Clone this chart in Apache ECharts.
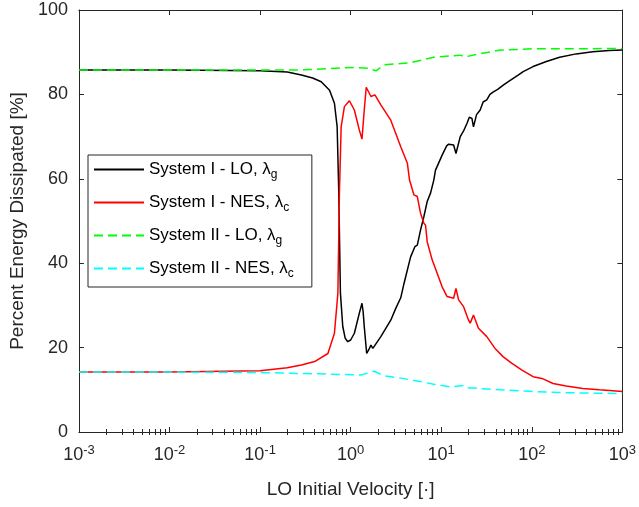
<!DOCTYPE html>
<html>
<head>
<meta charset="utf-8">
<script src="https://cdn.jsdelivr.net/npm/echarts@6/dist/echarts.min.js"></script>
<style>
html,body{margin:0;padding:0;background:#fff;}
#c{width:639px;height:507px;}
</style>
</head>
<body>
<div id="c"></div>
<script>
// ---- Data ----
const seriesNames = ['System I - LO, λ|g', 'System I - NES, λ|c', 'System II - LO, λ|g', 'System II - NES, λ|c'];

const sys1LO_x = [0.001,0.01,0.1,0.1995,0.2858,0.3802,0.4732,0.5848,0.6622,0.7096,0.7396,0.7709,0.8185,0.871,0.929,1.0,1.099,1.245,1.334,1.374,1.413,1.503,1.585,1.675,1.758,1.820,2.153,2.773,3.148,3.573,3.882,4.592,5.117,5.445,5.916,6.427,6.998,7.621,8.279,8.630,10.23,11.48,12.08,13.71,14.55,16.22,17.78,19.23,20.42,21.83,22.70,24.55,26.92,29.0,31.84,34.5,37.67,42.0,48.42,55.0,62.37,70.0,80.35,103.3,144.9,202.8,309.0,469.9,716.1,1000];
const sys1LO_y = [85.8,85.8,85.6,85.3,84.6,83.9,83.0,81.0,77.9,72.3,56.6,32.9,25.0,22.2,21.4,21.8,23.4,28.1,30.5,28.5,25.0,18.6,19.5,20.6,19.8,20.2,22.6,26.5,29.3,31.8,35.2,41.5,43.9,44.3,47.9,51.0,54.6,56.6,59.7,62.0,65.6,67.8,68.2,68.0,66.0,70.0,71.5,73.1,74.6,74.3,72.3,75.2,76.3,78.2,78.7,80.0,80.6,81.2,82.2,83.0,83.8,84.5,85.4,86.6,87.8,88.8,89.6,90.1,90.4,90.5];

const sys1NES_x = [0.001,0.01,0.1,0.1995,0.2858,0.3999,0.5610,0.6622,0.7228,0.7516,0.7852,0.8531,0.9683,1.099,1.245,1.334,1.413,1.486,1.675,1.854,2.153,2.773,3.573,4.227,4.467,4.989,5.445,5.916,6.427,6.714,6.998,7.943,9.016,10.23,11.61,13.71,14.55,15.56,17.66,20.04,20.89,22.70,25.76,31.84,39.26,48.42,59.84,77.09,103.3,133.0,171.4,239.9,365.6,557.2,1000];
const sys1NES_y = [14.2,14.2,14.5,15.2,15.9,16.7,18.6,23.4,32.9,56.6,72.3,77.1,78.5,76.3,71.6,69.4,76.3,81.7,79.5,79.9,77.5,73.9,67.6,63.7,59.7,56.2,55.8,51.8,49.5,49.0,45.1,40.8,37.6,34.4,32.1,31.7,34.0,31.3,29.7,26.5,25.8,27.7,24.6,22.6,19.8,17.8,16.3,14.7,13.1,12.6,11.5,10.9,10.3,10.0,9.6];

const sys2LO_x = [0.001,0.01,0.1,0.286,1.096,1.542,1.901,2.344,4.592,8.279,16.22,18.41,24.78,44.67,102.3,251.2,1000];
const sys2LO_y = [85.8,85.8,85.8,85.8,86.4,86.2,85.6,87.0,87.5,88.8,89.3,88.9,89.5,90.5,90.8,90.8,90.9];

const sys2NES_x = [0.001,0.01,0.1,0.610,1.300,1.820,2.344,3.281,5.445,8.279,12.62,17.66,19.23,31.84,44.67,102.3,251.2,1000];
const sys2NES_y = [14.2,14.2,14.1,13.7,13.5,14.4,13.3,12.9,12.1,11.3,10.7,11.0,10.5,10.2,10.0,9.6,9.3,9.1];

const yTicks = [0,20,40,60,80,100];
const xDecades = [0.001,0.01,0.1,1,10,100,1000];

// ---- Build chart ----
function pairs(xs, ys){ return xs.map((x,i)=>[x, ys[i]]); }
const minorTicks = [];
for (let d = 0; d < xDecades.length - 1; d++) {
  for (let k = 2; k <= 9; k++) minorTicks.push(xDecades[d] * k);
}
const FONT = 'Liberation Sans, Arial, Helvetica, sans-serif';
const AX = '#262626';

const chart = echarts.init(document.getElementById('c'), null, {renderer:'canvas'});

function logAxis(pos, opts){
  return Object.assign({
    type:'log', logBase:10, min:0.001, max:1000, position:pos,
    axisLine:{show:true, onZero:false, lineStyle:{color:AX, width:1}},
    axisTick:{show:true, inside:true, length:5, lineStyle:{color:AX}},
    axisLabel:{show:false},
    splitLine:{show:false}, minorTick:{show:false}, minorSplitLine:{show:false}
  }, opts||{});
}

const option = {
  animation:false,
  backgroundColor:'#fff',
  grid:{left:76, right:16, top:10, bottom:75, containLabel:false},
  xAxis:[
    logAxis('bottom', {
      name:'LO Initial Velocity [·]', nameLocation:'middle', nameGap:48,
      nameTextStyle:{fontSize:19, color:AX, fontFamily:FONT},
      axisLabel:{show:true, margin:12, color:AX, fontFamily:FONT,
        formatter:function(v){ const e = Math.round(Math.log10(v)); return '{b|10}{s|' + e + '}'; },
        rich:{ b:{fontSize:18, fontFamily:FONT, color:AX}, s:{fontSize:13, fontFamily:FONT, color:AX, padding:[0,0,10,0]} }
      }
    }),
    logAxis('top'),
    logAxis('bottom', {axisLine:{show:false}, axisTick:{show:true, inside:true, length:3, customValues:minorTicks, lineStyle:{color:AX}}}),
    logAxis('top', {axisLine:{show:false}, axisTick:{show:true, inside:true, length:3, customValues:minorTicks, lineStyle:{color:AX}}})
  ],
  yAxis:[
    {type:'value', min:0, max:100, interval:20, position:'left',
     name:'Percent Energy Dissipated [%]', nameLocation:'middle', nameGap:46,
     nameTextStyle:{fontSize:19, color:AX, fontFamily:FONT},
     axisLine:{show:true, onZero:false, lineStyle:{color:AX}},
     axisTick:{show:true, inside:true, length:5, lineStyle:{color:AX}},
     axisLabel:{show:true, margin:11, fontSize:18, color:AX, fontFamily:FONT,
       customValues: yTicks},
     splitLine:{show:false}},
    {type:'value', min:0, max:100, interval:20, position:'right',
     axisLine:{show:true, onZero:false, lineStyle:{color:AX}},
     axisTick:{show:true, inside:true, length:5, lineStyle:{color:AX}},
     axisLabel:{show:false}, splitLine:{show:false}}
  ],
  legend:{
    orient:'vertical', left:88, top:155,
    backgroundColor:'#fff', borderColor:AX, borderWidth:1,
    padding:[6,18,7,5], itemGap:13, itemWidth:50, itemHeight:14,
    itemStyle:{opacity:0},
    textStyle:{fontSize:17, color:'#000', fontFamily:FONT,
      rich:{
        a:{fontSize:17, fontFamily:FONT, color:'#000'},
        sub:{fontSize:12, fontFamily:FONT, color:'#000', padding:[11,0,0,0]}
      }},
    formatter:function(name){ const p = name.split('|'); return '{a|' + p[0] + '}{sub|' + p[1] + '}'; },
    data: seriesNames
  },
  series:[
    {name:seriesNames[0], type:'line', showSymbol:false, symbol:'none', data:pairs(sys1LO_x, sys1LO_y),
     lineStyle:{color:'#000000', width:1.5}, itemStyle:{color:'#000000'}},
    {name:seriesNames[1], type:'line', showSymbol:false, symbol:'none', data:pairs(sys1NES_x, sys1NES_y),
     lineStyle:{color:'#ff0000', width:1.5}, itemStyle:{color:'#ff0000'}},
    {name:seriesNames[2], type:'line', showSymbol:false, symbol:'none', data:pairs(sys2LO_x, sys2LO_y),
     lineStyle:{color:'#00ff00', width:1.5, type:[9,5]}, itemStyle:{color:'#00ff00'}},
    {name:seriesNames[3], type:'line', showSymbol:false, symbol:'none', data:pairs(sys2NES_x, sys2NES_y),
     lineStyle:{color:'#00ffff', width:1.5, type:[9,5]}, itemStyle:{color:'#00ffff'}}
  ]
};
chart.setOption(option);
</script>
</body>
</html>
